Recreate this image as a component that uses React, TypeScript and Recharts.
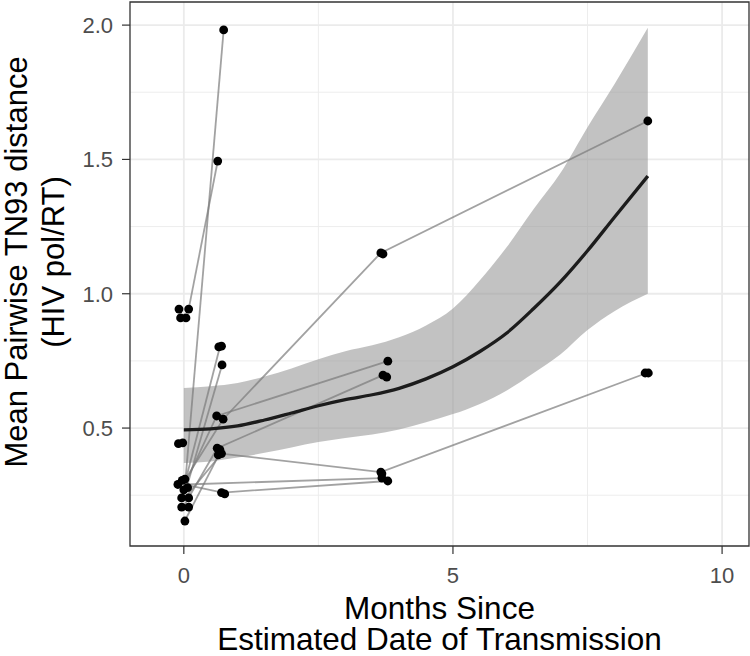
import React from 'react';
import { ComposedChart, XAxis, YAxis, CartesianGrid, Line, Area, Scatter, ReferenceArea } from 'recharts';

// Smoothed trend (loess) with confidence band
const smoothX = [0, 0.5, 1.0, 1.5, 2.0, 2.5, 3.0, 3.5, 4.0, 4.5, 5.0, 5.5, 6.0, 6.5, 7.0, 7.5, 8.0, 8.62];
const smoothY = [0.493, 0.497, 0.508, 0.53, 0.556, 0.583, 0.606, 0.624, 0.648, 0.683, 0.728, 0.785, 0.854, 0.945, 1.045, 1.16, 1.285, 1.438];
const smoothLo = [0.37, 0.376, 0.39, 0.408, 0.428, 0.448, 0.463, 0.476, 0.495, 0.522, 0.552, 0.59, 0.64, 0.705, 0.775, 0.865, 0.935, 1.0];
const smoothHi = [0.649, 0.656, 0.668, 0.692, 0.722, 0.756, 0.786, 0.808, 0.838, 0.882, 0.945, 1.05, 1.174, 1.315, 1.45, 1.62, 1.78, 1.99];

// Observed points (months, distance)
const pointX = [
  -0.09, 0.09, -0.06, 0.04,
  -0.1, -0.02,
  -0.03, -0.11, 0.07, 0.02, 0.0,
  -0.04, 0.09, -0.04, 0.09, 0.02,
  0.74, 0.63,
  0.65, 0.7, 0.71,
  0.61, 0.73,
  0.62, 0.67, 0.7, 0.64,
  0.7, 0.76,
  3.66, 3.7,
  3.79,
  3.7, 3.77,
  3.66, 3.68, 3.68, 3.79,
  8.62, 8.57, 8.63,
];
const pointY = [
  0.943, 0.943, 0.91, 0.91,
  0.442, 0.445,
  0.305, 0.29, 0.278, 0.31, 0.27,
  0.24, 0.24, 0.206, 0.206, 0.154,
  1.982, 1.494,
  0.802, 0.805, 0.735,
  0.545, 0.533,
  0.425, 0.42, 0.405, 0.4,
  0.26, 0.255,
  1.152, 1.148,
  0.749,
  0.697, 0.69,
  0.336, 0.33, 0.314, 0.303,
  1.643, 0.705, 0.705,
];

// Per-individual trajectories: [months, distance]
const trajectories: number[][][] = [
  [[0.0, 0.235], [0.74, 1.982]],
  [[0.09, 0.943], [0.63, 1.494]],
  [[0.0, 0.28], [0.67, 0.802]],
  [[0.04, 0.27], [0.71, 0.735]],
  [[0.0, 0.3], [0.73, 0.533], [3.66, 1.152], [8.62, 1.643]],
  [[0.02, 0.29], [0.61, 0.545], [3.79, 0.749]],
  [[0.0, 0.21], [0.62, 0.425], [3.7, 0.697]],
  [[0.02, 0.24], [0.7, 0.405], [3.66, 0.336], [8.6, 0.705]],
  [[0.0, 0.29], [0.72, 0.26], [3.79, 0.303]],
  [[0.04, 0.29], [3.68, 0.314]],
  [[0.02, 0.155], [0.65, 0.4]],
];

const xTicks = [0, 5, 10];
const yTicks = [0.5, 1.0, 1.5, 2.0];
const xMinor = [2.5, 7.5];
const yMinor = [0.25, 0.75, 1.25, 1.75];
const xDomain = [-1.0, 10.5];
const yDomain = [0.061, 2.086];

const FONT = '"Liberation Sans", Arial, Helvetica, sans-serif';

const smoothData = smoothX.map((x, i) => ({ x, y: smoothY[i], lo: smoothLo[i], hi: smoothHi[i] }));
const pointData = pointX.map((x, i) => ({ x, y: pointY[i] }));
const trajData = trajectories.map((t) => t.map(([x, y]) => ({ x, y })));

const XTitle = (props: any) => {
  const vb = props.viewBox || {};
  const cx = vb.x + vb.width / 2;
  return (
    <g>
      <text x={cx} y={vb.y + 73} textAnchor="middle" fontSize={31.5} fontFamily={FONT} fill="#000">Months Since</text>
      <text x={cx} y={vb.y + 104} textAnchor="middle" fontSize={31.5} fontFamily={FONT} fill="#000">Estimated Date of Transmission</text>
    </g>
  );
};

const YTitle = (props: any) => {
  const vb = props.viewBox || {};
  const cy = vb.y + vb.height / 2 - 12;
  return (
    <g>
      <text x={27} y={cy} transform={`rotate(-90, 27, ${cy})`} textAnchor="middle" fontSize={31} fontFamily={FONT} fill="#000">Mean Pairwise TN93 distance</text>
      <text x={64} y={cy} transform={`rotate(-90, 64, ${cy})`} textAnchor="middle" fontSize={31} fontFamily={FONT} fill="#000">(HIV pol/RT)</text>
    </g>
  );
};

const Dot = (p: any) => <circle cx={p.cx} cy={p.cy} r={4.4} fill="#000" />;

export default function App() {
  return (
    <div style={{ position: 'absolute', left: 0, top: 0, background: '#fff' }}>
      <ComposedChart width={750} height={656} margin={{ top: 2, right: 1, bottom: 0, left: 0 }}>
        <CartesianGrid stroke="#ebebeb" strokeWidth={0.9} fill="none" horizontalValues={yMinor} verticalValues={xMinor} />
        <CartesianGrid stroke="#ebebeb" strokeWidth={1.8} fill="none" horizontalValues={yTicks} verticalValues={xTicks} />
        <XAxis
          type="number"
          dataKey="x"
          domain={xDomain}
          allowDataOverflow
          ticks={xTicks}
          height={110}
          axisLine={false}
          tickSize={8}
          tickMargin={13}
          tickLine={{ stroke: '#333', strokeWidth: 1.2 }}
          tick={{ fontSize: 22, fill: '#4d4d4d', fontFamily: FONT }}
          label={XTitle}
        />
        <YAxis
          type="number"
          dataKey="y"
          domain={yDomain}
          allowDataOverflow
          ticks={yTicks}
          width={130}
          axisLine={false}
          tickSize={8}
          tickMargin={9}
          tickFormatter={(v: number) => v.toFixed(1)}
          tickLine={{ stroke: '#333', strokeWidth: 1.2 }}
          tick={{ fontSize: 22, fill: '#4d4d4d', fontFamily: FONT }}
          label={YTitle}
        />
        <Area
          data={smoothData}
          dataKey={(d: any) => [d.lo, d.hi]}
          type="monotone"
          stroke="none"
          fill="#999999"
          fillOpacity={0.6}
          isAnimationActive={false}
          activeDot={false}
        />
        {trajData.map((t, i) => (
          <Line
            key={'t' + i}
            data={t}
            dataKey="y"
            type="linear"
            stroke="#7a7a7a"
            strokeOpacity={0.7}
            strokeWidth={1.8}
            dot={false}
            activeDot={false}
            isAnimationActive={false}
          />
        ))}
        <Scatter data={pointData} dataKey="y" shape={Dot} isAnimationActive={false} />
        <Line
          data={smoothData}
          dataKey="y"
          type="monotone"
          stroke="#1c1c1c"
          strokeWidth={3.3}
          dot={false}
          activeDot={false}
          isAnimationActive={false}
        />
        <ReferenceArea x1={xDomain[0]} x2={xDomain[1]} y1={yDomain[0]} y2={yDomain[1]} fill="none" stroke="#333" strokeWidth={1.3} />
      </ComposedChart>
    </div>
  );
}
